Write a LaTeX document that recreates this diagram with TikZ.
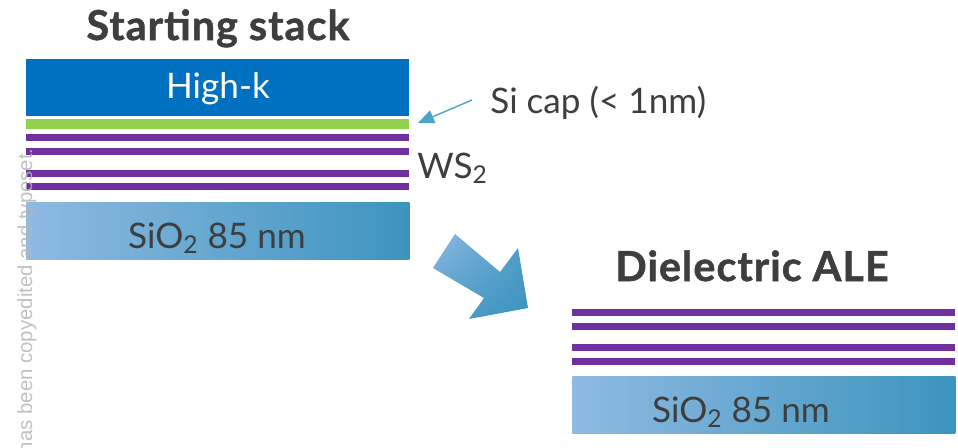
\documentclass[tikz,border=0pt]{standalone}
\usepackage{fontspec}
\setmainfont{Lato}
\setsansfont{Liberation Sans}
\usetikzlibrary{arrows.meta, shadings}

\definecolor{highkblue}{RGB}{0,112,192}
\definecolor{capgreen}{RGB}{146,208,80}
\definecolor{wspurple}{RGB}{112,48,160}
\definecolor{oxlight}{RGB}{142,186,226}
\definecolor{oxmid}{RGB}{78,156,200}
\definecolor{oxdark}{RGB}{60,148,190}
\definecolor{arrowblue}{RGB}{75,165,200}
\definecolor{textgray}{RGB}{62,62,62}
\definecolor{markgray}{RGB}{182,182,182}

\tikzset{
    layer/.style={rectangle, inner sep=0pt, anchor=north west, minimum width=7.66cm},
    oxide/.style={layer, minimum height=1.15cm, left color=oxlight, middle color=oxmid, right color=oxdark},
    sheet/.style={layer, minimum height=0.13cm, fill=wspurple},
    stacktext/.style={anchor=base, inner sep=0pt, text=textgray, font=\fontsize{20}{24}\selectfont},
    heading/.style={stacktext, font=\fontsize{23.5}{28}\selectfont\bfseries\addfontfeatures{FakeBold=1.2, LetterSpace=2.5}},
}

\begin{document}
\begin{tikzpicture}[x=0.02cm, y=-0.02cm]
    \useasboundingbox (0,0) rectangle (958,447);

    \draw (218,40) node (head1) [heading] {Starting stack};
    \draw (26,59) node (highk) [layer, minimum height=1.14cm, fill=highkblue] {};
    \draw (218,98) node (highktext) [stacktext, text=white] {High-k};
    \draw (26,119) node (sicap) [layer, minimum height=0.2cm, fill=capgreen] {};
    \foreach \y [count=\i] in {134,148,170,183}
        \draw (26,\y) node (ws\i) [sheet] {};
    \draw (26,202) node (ox1) [oxide] {};
    \draw (217,248) node (ox1text) [stacktext] {SiO\textsubscript{2} 85 nm};

    \draw (490,113) node (captext) [stacktext, anchor=base west] {Si cap (< 1nm)};
    \draw (417,178) node (wstext) [stacktext, anchor=base west] {WS\textsubscript{2}};
    \coordinate (captail) at (472,100);
    \coordinate (captip) at (418,123);
    \draw[arrowblue, line width=0.8pt, -{Triangle[length=0.32cm, width=0.27cm]}] (captail) -- (captip);

    \shade[upper left=oxlight, upper right=oxmid, lower left=oxmid, lower right=oxdark]
        (433,268) -- (455,234) -- (500,272) -- (518,248) -- (528,308)
        -- (469,319) -- (484,298) -- cycle;

    \draw (752,281) node (head2) [heading] {Dielectric ALE};
    \foreach \y [count=\i] in {309,323,344,358}
        \draw (572,\y) node (wsb\i) [sheet] {};
    \draw (572,376) node (ox2) [oxide] {};
    \draw (741,422) node (ox2text) [stacktext] {SiO\textsubscript{2} 85 nm};

    \draw (32,148) node (mark) [rotate=90, anchor=base east, inner sep=0pt, text=markgray, opacity=0.85,
        font=\sffamily\fontsize{11.6}{14}\selectfont] {has been copyedited and typeset.};
\end{tikzpicture}
\end{document}
